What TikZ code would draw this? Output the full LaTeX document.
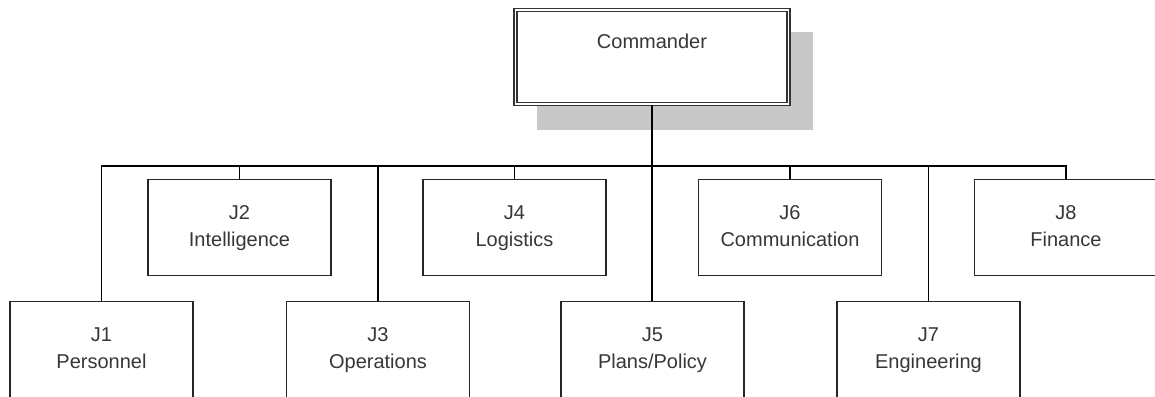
\documentclass[tikz,border=0pt]{standalone}
\usepackage{fontspec}
\setmainfont{Liberation Sans}
\usetikzlibrary{positioning}
\definecolor{shadowgray}{RGB}{200,200,200}
\definecolor{textgray}{RGB}{55,55,55}
\newcommand{\sect}[2]{\strut#1\\\strut#2}

\begin{document}
\begin{tikzpicture}[x=0.5pt,y=-0.5pt,
        box/.style={draw=black!85, line width=0.7pt, fill=white,
            minimum width=91.5pt, minimum height=48pt, align=center,
            text=textgray, font=\fontsize{10}{13.5}\selectfont},
        cmdbox/.style={draw=black!80, line width=0.7pt, double=white,
            double distance=0.9pt, fill=white,
            minimum width=136.5pt, minimum height=47pt},
        link/.style={draw=black, line width=0.7pt},
    ]
        \useasboundingbox (0,0) rectangle (1155,396);
        \clip (0,0) rectangle (1155,396);

        % commander with its shadow
        \fill[shadowgray] (537,32) rectangle (813,130);
        \node[cmdbox] (cmd) at (652,57) {};
        \node[text=textgray, font=\fontsize{10}{12}\selectfont, below=9pt of cmd.north] (cmdtext) {Commander};

        % staff sections, upper row
        \node[box] (j2) at (239.5,227.5) {\sect{J2}{Intelligence}};
        \node[box] (j4) at (514.5,227.5) {\sect{J4}{Logistics}};
        \node[box] (j6) at (790,227.5) {\sect{J6}{Communication}};
        \node[box] (j8) at (1066,227.5) {\sect{J8}{Finance}};

        % staff sections, lower row
        \node[box] (j1) at (101.5,349.5) {\sect{J1}{Personnel}};
        \node[box] (j3) at (378,349.5) {\sect{J3}{Operations}};
        \node[box] (j5) at (652.5,349.5) {\sect{J5}{Plans/Policy}};
        \node[box] (j7) at (928.5,349.5) {\sect{J7}{Engineering}};

        \coordinate (bus) at (652,166);
        \draw[link] (cmd.south) -- (cmd.south |- j5.north);
        \draw[link] (j1.north) |- (bus) -| (j8.north);
        \foreach \n in {j2,j3,j4,j6,j7}
            \draw[link] (\n.north) -- (\n.north |- bus);
\end{tikzpicture}
\end{document}
